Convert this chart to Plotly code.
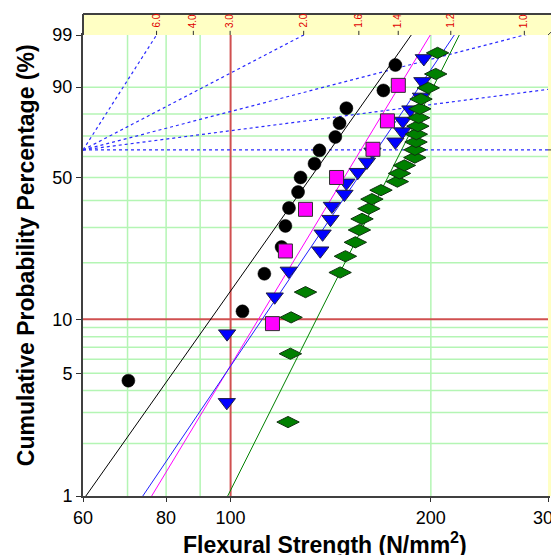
import numpy as np
import plotly.graph_objects as go

# ---------------- data ----------------
black_strength = [70.2, 104.2, 112.4, 119.3, 120.9, 122.4, 126.3, 127.4, 133.7, 136.0,
                  143.7, 145.8, 149.3, 169.7, 176.9]
black_pct = [4.55, 11.04, 17.53, 24.03, 30.52, 37.01, 43.51, 50.0, 56.49, 62.99,
             69.48, 75.97, 82.47, 88.96, 95.45]

magenta_strength = [115.6, 120.9, 129.6, 144.3, 163.7, 172.1, 178.7]
magenta_pct = [9.46, 22.97, 36.49, 50.0, 63.51, 77.03, 90.54]

blue_strength = [98.7, 98.8, 116.5, 122.3, 136.4, 137.5, 141.3, 142.0, 148.3, 149.3,
                 155.3, 160.3, 163.4, 176.9, 181.2, 181.5, 186.3, 193.3, 194.2, 195.2]
blue_pct = [3.43, 8.33, 13.24, 18.14, 23.04, 27.94, 32.84, 37.75, 42.65, 47.55,
            52.45, 57.35, 62.25, 67.16, 72.06, 76.96, 81.86, 86.76, 91.67, 96.57]

green_strength = [122.0, 123.0, 123.3, 129.6, 146.1, 148.8, 154.0, 156.2, 157.6, 161.4,
                  163.1, 168.3, 178.1, 179.4, 182.5, 189.2, 189.3, 190.0, 190.2, 191.2,
                  191.7, 192.5, 193.3, 198.2, 203.4, 204.7]
green_pct = [2.65, 6.44, 10.23, 14.02, 17.80, 21.59, 25.38, 29.17, 32.95, 36.74,
             40.53, 44.32, 48.11, 51.89, 55.68, 59.47, 63.26, 67.05, 70.83, 74.62,
             78.41, 82.20, 85.98, 89.77, 93.56, 97.35]

# fitted Weibull lines: strength at 1 % and 99 %
fit_pct = [1, 99]
black_fit = [60.6, 186.9]
magenta_fit = [76.1, 199.6]
blue_fit = [73.8, 216.9]
green_fit = [99.0, 220.7]

# axis ticks
x_ticks = [60, 80, 100, 200, 300]
y_ticks = [99, 90, 50, 10, 5, 1]
x_grid = [70, 80, 90, 200]
y_grid = [90, 80, 70, 60, 50, 40, 30, 20, 9, 8, 7, 6, 5, 4, 3, 2]
x_red = 100
y_red = 10

# Weibull slope nomograph
pivot_strength = 60
pivot_pct = 63.2
beta_ticks = [6.0, 4.0, 3.0, 2.0, 1.6, 1.4, 1.2, 1.0]
beta_lines = [6.0, 2.0, 1.0, 0.5, 0.0]


def wb(p):
    p = np.asarray(p, dtype=float) / 100.0
    return np.log(-np.log(1.0 - p))


X_MIN, X_MAX = 60, 300
Y_MIN, Y_MAX = float(wb(1)), float(wb(99))
FONT = "Liberation Sans, Arial, sans-serif"

fig = go.Figure()

# nomograph dotted lines
w_piv = float(wb(pivot_pct))
for b in beta_lines:
    xs = [pivot_strength, X_MAX]
    ys = [w_piv, w_piv + b * np.log(X_MAX / pivot_strength)]
    fig.add_trace(go.Scatter(x=xs, y=ys, mode="lines",
                             line=dict(color="#2a2aff", width=1.2, dash="3px,3px"),
                             hoverinfo="skip", showlegend=False))

# fit lines
for fx, col in [(black_fit, "#000000"), (magenta_fit, "#ff00ff"),
                (blue_fit, "#2020ff"), (green_fit, "#008000")]:
    fig.add_trace(go.Scatter(x=fx, y=wb(fit_pct), mode="lines",
                             line=dict(color=col, width=1),
                             hoverinfo="skip", showlegend=False))

# data points
fig.add_trace(go.Scatter(x=black_strength, y=wb(black_pct), mode="markers",
                         marker=dict(symbol="circle", size=13, color="#000000",
                                     line=dict(color="#000000", width=0.5)),
                         showlegend=False))
fig.add_trace(go.Scatter(x=blue_strength, y=wb(blue_pct), mode="markers",
                         marker=dict(symbol="triangle-down", size=15, color="#0000ff",
                                     line=dict(color="#202040", width=1)),
                         showlegend=False))
fig.add_trace(go.Scatter(x=magenta_strength, y=wb(magenta_pct), mode="markers",
                         marker=dict(symbol="square", size=14, color="#ff00ff",
                                     line=dict(color="#303030", width=1)),
                         showlegend=False))
fig.add_trace(go.Scatter(x=green_strength, y=wb(green_pct), mode="markers",
                         marker=dict(symbol="diamond-wide", size=16, color="#008000",
                                     line=dict(color="#103010", width=1)),
                         showlegend=False))

# pivot point
fig.add_trace(go.Scatter(x=[pivot_strength], y=[w_piv], mode="markers",
                         marker=dict(symbol="circle", size=9, color="#0000ff"),
                         cliponaxis=False, showlegend=False, hoverinfo="skip"))

shapes = []
# gridlines
for gx in x_grid:
    shapes.append(dict(type="line", xref="x", yref="paper", x0=gx, x1=gx, y0=0, y1=1,
                       line=dict(color="#b4f5b4", width=1.5), layer="below"))
for gy in y_grid:
    v = float(wb(gy))
    shapes.append(dict(type="line", xref="paper", yref="y", x0=0, x1=1, y0=v, y1=v,
                       line=dict(color="#b4f5b4", width=1.5), layer="below"))
shapes.append(dict(type="line", xref="x", yref="paper", x0=x_red, x1=x_red, y0=0, y1=1,
                   line=dict(color="#d05050", width=2), layer="below"))
v10 = float(wb(y_red))
shapes.append(dict(type="line", xref="paper", yref="y", x0=0, x1=1, y0=v10, y1=v10,
                   line=dict(color="#d05050", width=2), layer="below"))

# yellow bands (outside plot area)
TOP = 1.0456
RIGHT = 1.03
shapes.append(dict(type="rect", xref="paper", yref="paper", x0=0, x1=RIGHT, y0=1, y1=TOP,
                   fillcolor="#ffffc4", line=dict(width=0), layer="above"))
shapes.append(dict(type="rect", xref="paper", yref="paper", x0=1, x1=RIGHT, y0=0, y1=TOP,
                   fillcolor="#ffffc4", line=dict(width=0), layer="above"))
shapes.append(dict(type="line", xref="paper", yref="paper", x0=0, x1=RIGHT, y0=TOP, y1=TOP,
                   line=dict(color="#404040", width=2)))
shapes.append(dict(type="line", xref="paper", yref="paper", x0=0, x1=0, y0=1, y1=TOP,
                   line=dict(color="#404040", width=2)))
shapes.append(dict(type="line", xref="paper", yref="paper", x0=1, x1=1.025, y0=1, y1=1.024,
                   line=dict(color="#404040", width=1)))

annotations = []
# beta scale ticks & labels
for b in beta_ticks:
    xv = pivot_strength * np.exp((Y_MAX - w_piv) / b)
    shapes.append(dict(type="line", xref="x", yref="paper", x0=xv, x1=xv, y0=1, y1=1.009,
                       line=dict(color="#303030", width=1)))
    annotations.append(dict(x=np.log10(xv), y=1.011, xref="x", yref="paper",
                            text=f"{b:.1f}", showarrow=False, textangle=-90,
                            xanchor="center", yanchor="bottom",
                            font=dict(family=FONT, size=10, color="#e00000")))
annotations.append(dict(x=1.003, y=1.025, xref="paper", yref="paper", text="β",
                        showarrow=False, xanchor="left", yanchor="middle",
                        font=dict(family=FONT, size=11, color="#e00000")))
annotations.append(dict(x=1.012, y=w_piv, xref="paper", yref="y", text="γ",
                        showarrow=False, textangle=-90, xanchor="left", yanchor="middle",
                        font=dict(family=FONT, size=9, color="#e00000")))
shapes.append(dict(type="line", xref="paper", yref="y", x0=1, x1=1.01, y0=w_piv, y1=w_piv,
                   line=dict(color="#303030", width=1)))

# axis titles
annotations.append(dict(x=0.52, y=-0.103, xref="paper", yref="paper",
                        text="<b>Flexural Strength (N/mm<sup>2</sup>)</b>", showarrow=False,
                        xanchor="center", yanchor="middle",
                        font=dict(family=FONT, size=23, color="#000000")))
annotations.append(dict(x=-0.122, y=0.523, xref="paper", yref="paper",
                        text="<b>Cumulative Probability Percentage (%)</b>", showarrow=False,
                        textangle=-90, xanchor="center", yanchor="middle",
                        font=dict(family=FONT, size=23, color="#000000")))

# the page places the figure 8 px from the top-left corner, so the figure is
# 8 px smaller and its margins are shifted accordingly
fig.update_layout(
    width=551, height=547,
    margin=dict(l=75, r=11, t=27, b=59, autoexpand=False),
    paper_bgcolor="white", plot_bgcolor="white",
    showlegend=False,
    shapes=shapes, annotations=annotations,
    font=dict(family=FONT, size=18, color="#000000"),
)
fig.update_xaxes(type="log", range=[np.log10(X_MIN), np.log10(X_MAX)],
                 tickvals=x_ticks, ticktext=[str(t) for t in x_ticks],
                 showgrid=False, zeroline=False, ticks="outside", ticklen=4,
                 tickcolor="#303030", showline=True, linecolor="#404040", linewidth=2,
                 mirror=True, tickfont=dict(size=18), automargin=False,
                 ticklabeloverflow="allow")
fig.update_yaxes(range=[Y_MIN, Y_MAX], tickvals=[float(wb(t)) for t in y_ticks],
                 ticktext=[str(t) for t in y_ticks], showgrid=False, zeroline=False,
                 ticks="outside", ticklen=5, tickcolor="#303030", showline=True,
                 linecolor="#404040", linewidth=2, mirror=True, tickfont=dict(size=18),
                 automargin=False, ticklabeloverflow="allow")

fig.write_html("out.html")
